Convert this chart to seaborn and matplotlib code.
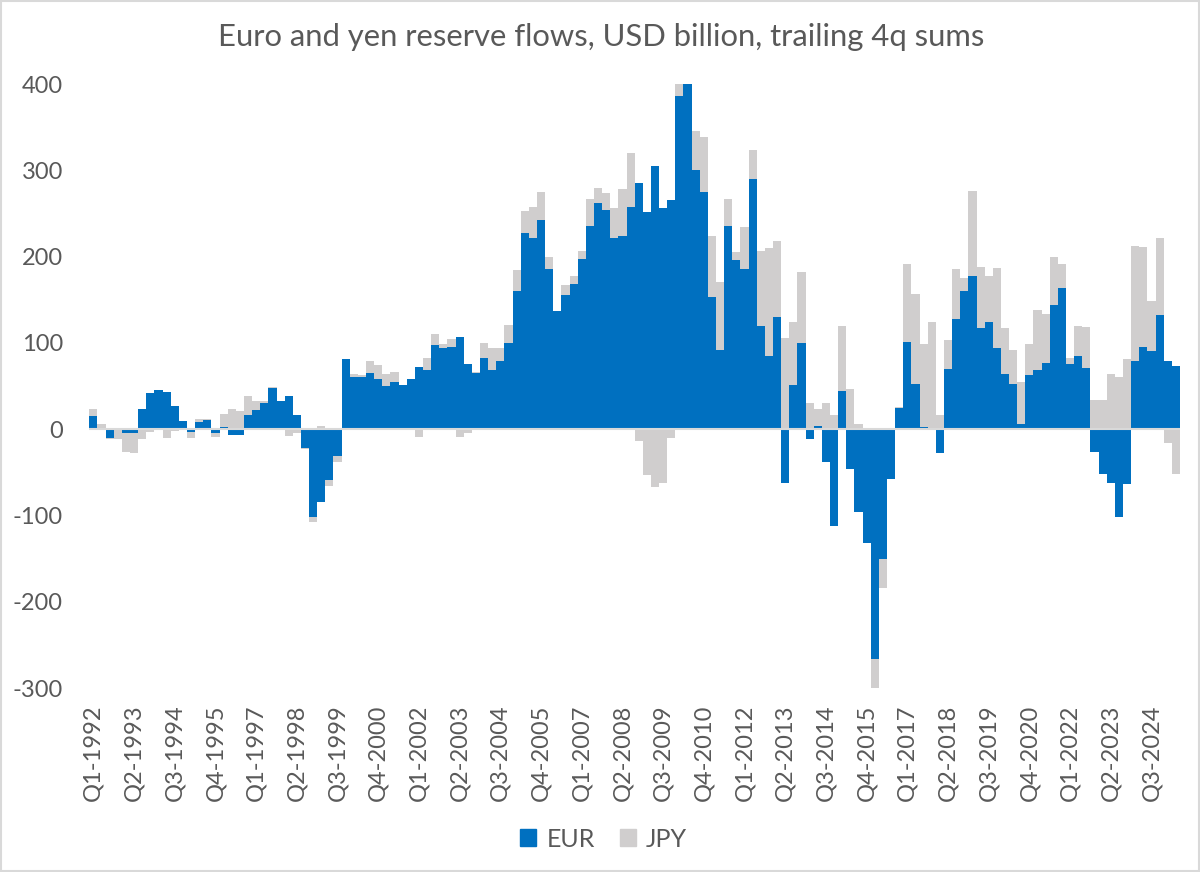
import numpy as np
import seaborn as sns
import matplotlib.pyplot as plt
from matplotlib.patches import Patch, Rectangle

# quarters Q1-1992 .. Q2-2025
quarters = [f"Q{q}-{y}" for y in range(1992, 2026) for q in range(1, 5)][:134]

# trailing 4q sums, USD billion
eur = [
    15, 0, -10, 0, -5, -4, 23, 42, 45, 43,
    27, 10, -3, 8.5, 11, -4, 2, -7, -7, 16,
    22, 30, 47.5, 33, 38, 16, -22, -102, -84, -59,
    -31, 81.5, 61, 60, 64.5, 58, 50, 55, 51, 58,
    72, 69, 97, 94, 95, 107, 76, 64.5, 82, 69,
    79.5, 100, 160, 227, 221, 242, 186, 137, 156, 168,
    197, 236, 262, 254, 222, 224, 258, 285, 252, 305,
    256, 265, 386, 400, 300, 275, 153, 92, 236, 196,
    186, 290, 120, 85, 130, -62, 50.6, 100, -12, 4,
    -38, -112, 44, -46, -96, -132.5, -266, -150.6, -58, 24,
    101, 52.5, 2.3, 0, -28, 69.5, 127.5, 160, 177, 117,
    123.6, 93.5, 63.7, 52, 6.2, 62.6, 68.8, 76.9, 144, 163.8,
    75.7, 85, 70.7, -27, -52, -62, -102, -63, 79, 95.4,
    90, 132.5, 79, 73.4,
]
jpy = [
    8, 6, -2, -11, -22, -24, -12, -3, 0, -10,
    -2, 0, -7, 3.5, 1, -5, 16, 23, 21, 22,
    11, 3, 1, 0, -8, -4, -1, -6, 3.5, -7,
    -7, 0, 3, 3, 14, 16, 14, 11, 0, 0,
    -9, 13, 13.5, 5, 10, -9, -5, 2, 18, 25,
    15, 21, 25, 25.5, 37, 33, 13, 0, 11.6, 9,
    9, 30.5, 17, 20, 34, 54, 62, -14, -53, -67,
    -62, -10, 14, 0, 46, 63, 71, 78, 31, 9,
    48, 34, 86, 125.5, 88, 106, 74, 82, 30.5, 19,
    30.5, 16, 76, 46, 6, 0, -35, -33, 0, 2,
    90, 104.5, 96, 124, 16, 34, 58, 15, 99, 71,
    54, 93, 54, 40, 48, 36, 69, 57, 55, 28,
    6.6, 34, 48, 34, 34, 63.7, 60.6, 81, 133, 116,
    59, 89, -15.5, -52,
]
yticks = [-300, -200, -100, 0, 100, 200, 300, 400]

EUR_COLOR = "#0070C0"
JPY_COLOR = "#D0CECE"
TXT = "#595959"

sns.set_style("white")
plt.rcParams["font.family"] = ["Lato", "DejaVu Sans"]

eur_a = np.array(eur, dtype=float)
jpy_a = np.array(jpy, dtype=float)
# stacked like excel: same sign -> jpy sits on eur, else starts at zero
jpy_top = np.where(np.sign(eur_a) * np.sign(jpy_a) > 0, eur_a + jpy_a, jpy_a)

fig = plt.figure(figsize=(12, 8.72), dpi=100)
ax = fig.add_axes([89.3 / 1200, 1 - 688 / 872, (1180 - 89.3) / 1200, (688 - 84) / 872])

sns.barplot(x=quarters, y=jpy_top, color=JPY_COLOR, saturation=1, width=1,
            linewidth=0, ax=ax)
sns.barplot(x=quarters, y=eur_a, color=EUR_COLOR, saturation=1, width=1,
            linewidth=0, ax=ax)

ax.axhline(0, color="#D9D9D9", lw=1.5, zorder=5)
ax.set_ylim(-300, 400)
ax.set_xlim(-0.5, len(quarters) - 0.5)
ax.set_yticks(yticks)
ax.set_yticklabels([str(v) for v in yticks])
ax.set_xticks(range(0, len(quarters), 5))
ax.set_xticklabels(quarters[::5], rotation=90)
ax.tick_params(axis="y", length=0, pad=19, labelsize=17, labelcolor=TXT)
ax.tick_params(axis="x", length=0, pad=12, labelsize=17, labelcolor=TXT)
ax.set_xlabel("")
ax.set_ylabel("")
sns.despine(ax=ax, left=True, bottom=True)

fig.text(0.501, 1 - 46 / 872, "Euro and yen reserve flows, USD billion, trailing 4q sums",
         ha="center", va="baseline", fontsize=22.3, color=TXT)

handles = [Patch(color=EUR_COLOR, label="EUR"), Patch(color=JPY_COLOR, label="JPY")]
fig.legend(handles=handles, loc="center", bbox_to_anchor=(0.503, 1 - 839 / 872), ncol=2,
           frameon=False, fontsize=18, labelcolor=TXT, handlelength=0.65,
           handleheight=0.65, handletextpad=0.4, columnspacing=1.0)

fig.patches.append(Rectangle((0.001, 0.001), 0.998, 0.998, transform=fig.transFigure,
                             fill=False, edgecolor="#D9D9D9", lw=1.5))

fig.savefig("out.png", dpi=100)
